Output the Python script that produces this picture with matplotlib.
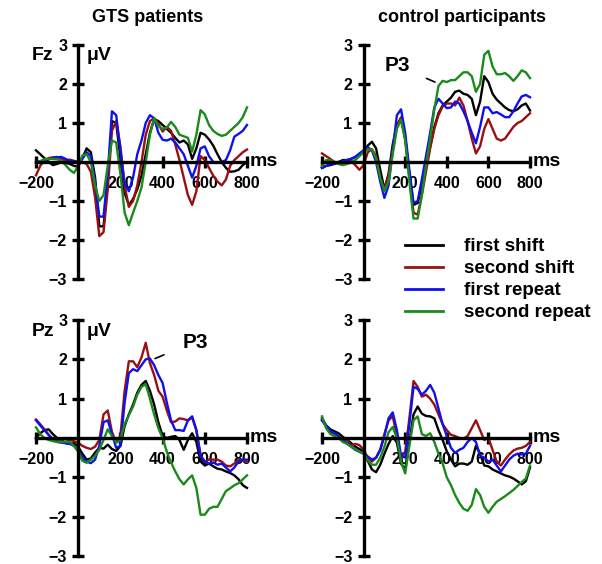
import matplotlib
matplotlib.use("Agg")
import matplotlib.pyplot as plt
from matplotlib.lines import Line2D

plt.rcParams['font.family'] = ['Liberation Sans', 'DejaVu Sans']
plt.rcParams['font.weight'] = 'bold'

# time axis (ms), 20 ms steps
t = list(range(-200, 801, 20))

conditions = ['first shift', 'second shift', 'first repeat', 'second repeat']
colors = ['#000000', '#9a1010', '#1010ee', '#1a8a1a']

# Fz, GTS patients
fz_gts_first_shift = [0.3, 0.2, 0.1, 0.0, -0.08, -0.05, 0.0, -0.02, -0.05, -0.1, -0.12, 0.1, 0.35, 0.25, -0.4,
                      -1.65, -1.65, -0.5, 1.05, 1.0, 0.1, -0.8, -1.1, -0.95, -0.7, -0.35, 0.2, 0.75, 1.1, 1.05,
                      0.95, 0.85, 0.75, 0.62, 0.5, 0.55, 0.45, 0.08, 0.35, 0.75, 0.7, 0.58, 0.42, 0.2, 0.0,
                      -0.15, -0.25, -0.24, -0.2, -0.08, 0.0]
fz_gts_second_shift = [-0.34, -0.1, 0.05, 0.1, 0.12, 0.13, 0.08, 0.04, 0.06, 0.03, 0.0, 0.0, -0.05, -0.25, -0.9,
                       -1.9, -1.8, -0.7, 0.8, 1.05, 0.4, -0.6, -1.15, -1.0, -0.6, 0.0, 0.7, 1.05, 1.12, 0.98,
                       0.78, 0.9, 0.8, 0.45, 0.05, -0.4, -0.85, -1.1, -0.75, 0.15, 0.05, -0.15, -0.35, -0.5, -0.6,
                       -0.45, -0.1, 0.05, 0.15, 0.25, 0.32]
fz_gts_first_repeat = [0.0, 0.02, 0.05, 0.07, 0.1, 0.12, 0.13, 0.08, 0.03, 0.02, 0.0, 0.08, 0.25, 0.15, -0.5,
                       -1.4, -1.4, -0.3, 1.3, 1.2, 0.3, -0.55, -0.75, -0.4, 0.2, 0.55, 1.0, 1.2, 1.12, 0.75,
                       0.57, 0.55, 0.6, 0.5, 0.35, 0.2, -0.1, -0.4, -0.1, 0.35, 0.4, 0.15, 0.0, -0.02, 0.0,
                       0.05, 0.3, 0.65, 0.72, 0.8, 0.95]
fz_gts_second_repeat = [-0.04, 0.02, 0.07, 0.08, 0.08, 0.07, 0.04, -0.08, -0.2, -0.28, -0.1, 0.17, 0.2, 0.0, -0.6,
                        -1.0, -0.85, -0.1, 0.55, 0.5, -0.3, -1.3, -1.62, -1.3, -1.0, -0.65, 0.0, 0.7, 1.12, 0.92,
                        0.85, 0.88, 1.03, 0.9, 0.7, 0.66, 0.62, 0.27, 0.7, 1.33, 1.22, 0.95, 0.8, 0.72, 0.67,
                        0.7, 0.8, 0.9, 1.0, 1.15, 1.4]

# Fz, control participants
fz_ctl_first_shift = [-0.15, -0.1, -0.08, -0.05, 0.0, 0.05, 0.05, 0.08, 0.13, 0.2, 0.27, 0.42, 0.52, 0.35, -0.2,
                      -0.7, -0.3, 0.45, 0.95, 1.12, 0.6, -0.3, -1.1, -1.05, -0.6, -0.1, 0.4, 0.9, 1.25, 1.45,
                      1.55, 1.65, 1.8, 1.83, 1.75, 1.72, 1.62, 1.2, 1.55, 2.2, 2.05, 1.75, 1.6, 1.5, 1.4,
                      1.33, 1.3, 1.35, 1.45, 1.5, 1.32]
fz_ctl_second_shift = [0.22, 0.15, 0.08, 0.0, -0.05, -0.05, 0.04, 0.03, -0.08, -0.2, -0.08, 0.25, 0.33, 0.15, -0.45,
                       -0.7, -0.35, 0.3, 0.9, 1.15, 0.65, -0.35, -1.3, -1.35, -0.85, -0.25, 0.35, 0.85, 1.2, 1.42,
                       1.5, 1.5, 1.45, 1.65, 1.45, 1.05, 0.6, 0.22, 0.4, 0.85, 1.1, 0.85, 0.6, 0.55, 0.6,
                       0.75, 0.9, 1.0, 1.05, 1.15, 1.25]
fz_ctl_first_repeat = [-0.15, -0.1, -0.05, -0.05, 0.0, 0.02, 0.05, 0.08, 0.13, 0.22, 0.3, 0.38, 0.3, 0.0, -0.5,
                       -0.92, -0.6, 0.3, 1.2, 1.35, 0.75, -0.2, -1.05, -1.0, -0.45, 0.15, 0.75, 1.4, 1.62, 1.5,
                       1.38, 1.4, 1.55, 1.5, 1.3, 1.05, 0.75, 0.48, 0.9, 1.4, 1.4, 1.25, 1.28, 1.22, 1.15,
                       1.15, 1.3, 1.5, 1.68, 1.72, 1.66]
fz_ctl_second_repeat = [-0.1, 0.05, 0.05, 0.0, -0.05, -0.08, -0.05, 0.0, 0.05, 0.15, 0.25, 0.33, 0.32, 0.1, -0.4,
                        -0.75, -0.5, 0.2, 0.85, 1.08, 0.55, -0.5, -1.45, -1.45, -0.85, -0.1, 0.6, 1.35, 1.95, 2.08,
                        2.05, 2.1, 2.1, 2.2, 2.3, 2.3, 2.2, 1.8, 2.0, 2.75, 2.85, 2.45, 2.25, 2.25, 2.28,
                        2.2, 2.08, 2.2, 2.35, 2.3, 2.15]

# Pz, GTS patients
pz_gts_first_shift = [0.0, 0.12, 0.2, 0.22, 0.1, 0.0, -0.05, -0.13, -0.15, -0.13, -0.22, -0.4, -0.55, -0.52, -0.37,
                      -0.25, -0.27, -0.17, -0.28, -0.33, -0.2, 0.3, 0.6, 0.85, 1.15, 1.35, 1.45, 1.2, 0.85, 0.4,
                      0.05, 0.0, 0.03, 0.05, -0.05, -0.3, -0.05, 0.12, -0.1, -0.6, -0.7, -0.65, -0.72, -0.78, -0.8,
                      -0.85, -0.89, -0.95, -1.05, -1.2, -1.27]
pz_gts_second_shift = [0.47, 0.35, 0.22, 0.08, -0.02, -0.05, -0.08, -0.1, -0.05, -0.08, -0.12, -0.2, -0.25, -0.28, -0.22,
                       -0.05, 0.6, 0.7, 0.15, -0.1, 0.05, 1.2, 1.95, 1.95, 1.8, 2.05, 2.42, 1.9, 1.6, 1.2,
                       1.05, 0.7, 0.4, 0.42, 0.5, 0.48, 0.45, 0.52, 0.2, -0.45, -0.6, -0.55, -0.55, -0.55, -0.6,
                       -0.7, -0.72, -0.65, -0.55, -0.58, -0.6]
pz_gts_first_repeat = [0.45, 0.32, 0.2, 0.08, -0.05, -0.1, -0.12, -0.13, -0.15, -0.2, -0.32, -0.5, -0.6, -0.64, -0.55,
                       -0.2, 0.4, 0.45, 0.1, -0.25, -0.2, 0.9, 1.65, 1.75, 1.7, 1.85, 2.0, 2.02, 1.85, 1.6,
                       1.4, 0.9, 0.45, 0.2, 0.2, 0.18, 0.45, 0.55, 0.2, -0.45, -0.6, -0.65, -0.62, -0.68, -0.65,
                       -0.75, -0.85, -0.75, -0.6, -0.55, -0.55]
pz_gts_second_repeat = [0.27, 0.1, 0.0, -0.05, -0.08, -0.1, -0.1, -0.1, -0.1, -0.2, -0.35, -0.58, -0.63, -0.55, -0.45,
                        -0.3, -0.05, 0.22, 0.05, -0.12, -0.05, 0.35, 0.58, 0.8, 1.1, 1.3, 1.37, 1.0, 0.6, 0.25,
                        0.0, -0.35, -0.62, -0.85, -1.05, -1.18, -1.05, -0.95, -1.27, -1.95, -1.95, -1.8, -1.75, -1.75, -1.55,
                        -1.35, -1.28, -1.2, -1.15, -1.05, -0.95]

# Pz, control participants
pz_ctl_first_shift = [0.5, 0.32, 0.22, 0.17, 0.12, 0.03, -0.04, -0.13, -0.22, -0.28, -0.35, -0.58, -0.8, -0.87, -0.68,
                      -0.4, -0.15, 0.05, -0.12, -0.65, -0.8, -0.1, 0.6, 0.8, 0.62, 0.56, 0.55, 0.5, 0.2, -0.05,
                      -0.34, -0.55, -0.72, -0.65, -0.65, -0.68, -0.6, -0.2, -0.4, -0.7, -0.72, -0.8, -0.85, -0.9, -0.95,
                      -0.98, -1.03, -1.1, -1.18, -1.1, -0.75]
pz_ctl_second_shift = [0.45, 0.3, 0.15, 0.07, 0.03, -0.02, -0.05, -0.2, -0.15, -0.18, -0.3, -0.5, -0.6, -0.5, -0.3,
                       0.1, 0.45, 0.55, 0.05, -0.5, -0.35, 0.5, 1.45, 1.3, 1.05, 1.1, 1.0, 0.85, 0.6, 0.35,
                       0.2, 0.08, 0.05, 0.0, -0.02, 0.05, 0.25, 0.45, 0.2, -0.05, 0.0, -0.3, -0.6, -0.7, -0.55,
                       -0.42, -0.32, -0.27, -0.25, -0.2, -0.1]
pz_ctl_first_repeat = [0.45, 0.3, 0.18, 0.12, 0.05, -0.05, -0.13, -0.22, -0.3, -0.35, -0.4, -0.47, -0.55, -0.5, -0.3,
                       0.05, 0.5, 0.65, 0.2, -0.45, -0.5, 0.35, 1.3, 1.25, 1.1, 1.2, 1.35, 1.15, 0.75, 0.35,
                       0.05, -0.25, -0.38, -0.3, -0.25, -0.1, 0.0, -0.1, -0.45, -0.5, -0.6, -0.55, -0.7, -0.85, -0.7,
                       -0.55, -0.45, -0.4, -0.42, -0.4, -0.2]
pz_ctl_second_repeat = [0.55, 0.25, 0.1, 0.05, 0.0, -0.1, -0.15, -0.22, -0.28, -0.35, -0.4, -0.56, -0.68, -0.68, -0.5,
                        -0.22, 0.15, 0.28, 0.0, -0.6, -0.9, -0.2, 0.45, 0.55, 0.1, 0.05, 0.12, -0.1, -0.4, -0.65,
                        -1.0, -1.2, -1.45, -1.65, -1.8, -1.85, -1.7, -1.3, -1.45, -1.75, -1.9, -1.75, -1.62, -1.55, -1.48,
                        -1.4, -1.32, -1.22, -1.12, -1.03, -0.7]

xticks = [-200, 200, 400, 600, 800]
yticks = [-3, -2, -1, 1, 2, 3]


def draw_panel(ax, series, site=None):
    for vals, c in zip(series, colors):
        ax.plot(t, vals, color=c, lw=1.7, clip_on=False, zorder=2)
    ax.set_xlim(-200, 800)
    ax.set_ylim(-3, 3)
    for s in ['top', 'right']:
        ax.spines[s].set_visible(False)
    ax.spines['left'].set_position(('data', 0))
    ax.spines['bottom'].set_position(('data', 0))
    for s in ['left', 'bottom']:
        ax.spines[s].set_linewidth(2.4)
        ax.spines[s].set_zorder(3)
    ax.set_xticks(xticks)
    ax.set_xticklabels([str(v).replace('-', '\u2212') for v in xticks])
    ax.set_yticks(yticks)
    ax.set_yticklabels([str(v).replace('-', '\u2212') for v in yticks])
    ax.tick_params(direction='inout', length=8, width=2.4, labelsize=11.5)
    ax.tick_params(axis='x', pad=6)
    ax.tick_params(axis='y', pad=4)
    ax.patch.set_visible(False)
    ax.text(812, 0, 'ms', fontsize=14, fontweight='bold', va='center', ha='left')
    if site:
        ax.text(-168, 2.72, site, fontsize=14, fontweight='bold', va='center', ha='center')
        ax.text(40, 2.72, '\u03bcV', fontsize=14, fontweight='bold', va='center', ha='left')


fig = plt.figure(figsize=(6.02, 5.64), dpi=100)
W, H = 602.0, 564.0
ax_tl = fig.add_axes([36 / W, (H - 279) / H, 211 / W, 234 / H])
ax_tr = fig.add_axes([322 / W, (H - 279) / H, 208 / W, 234 / H])
ax_bl = fig.add_axes([36 / W, (H - 556) / H, 211 / W, 236 / H])
ax_br = fig.add_axes([322 / W, (H - 556) / H, 208 / W, 236 / H])

draw_panel(ax_tl, [fz_gts_first_shift, fz_gts_second_shift, fz_gts_first_repeat, fz_gts_second_repeat], 'Fz')
draw_panel(ax_tr, [fz_ctl_first_shift, fz_ctl_second_shift, fz_ctl_first_repeat, fz_ctl_second_repeat])
draw_panel(ax_bl, [pz_gts_first_shift, pz_gts_second_shift, pz_gts_first_repeat, pz_gts_second_repeat], 'Pz')
draw_panel(ax_br, [pz_ctl_first_shift, pz_ctl_second_shift, pz_ctl_first_repeat, pz_ctl_second_repeat])

# P3 labels
ax_tr.annotate('P3', xy=(343, 2.05), xytext=(160, 2.47), fontsize=15, fontweight='bold',
               ha='center', va='center',
               arrowprops=dict(arrowstyle='-', lw=1.2, color='black', shrinkA=11, shrinkB=0))
ax_bl.annotate('P3', xy=(364, 2.02), xytext=(553, 2.44), fontsize=15, fontweight='bold',
               ha='center', va='center',
               arrowprops=dict(arrowstyle='-', lw=1.2, color='black', shrinkA=12, shrinkB=0))

fig.text(148 / W, 1 - 18 / H, 'GTS patients', fontsize=13, fontweight='bold', ha='center', va='center')
fig.text(462 / W, 1 - 18 / H, 'control participants', fontsize=13, fontweight='bold', ha='center', va='center')

handles = [Line2D([], [], color=c, lw=2) for c in colors]
fig.legend(handles, conditions, loc='upper left', bbox_to_anchor=(405 / W, 1 - 238 / H),
           frameon=False, fontsize=13.5, handlelength=2.0, handletextpad=1.17,
           labelspacing=0.26, borderaxespad=0, borderpad=0)

fig.savefig('out.png', dpi=100)
